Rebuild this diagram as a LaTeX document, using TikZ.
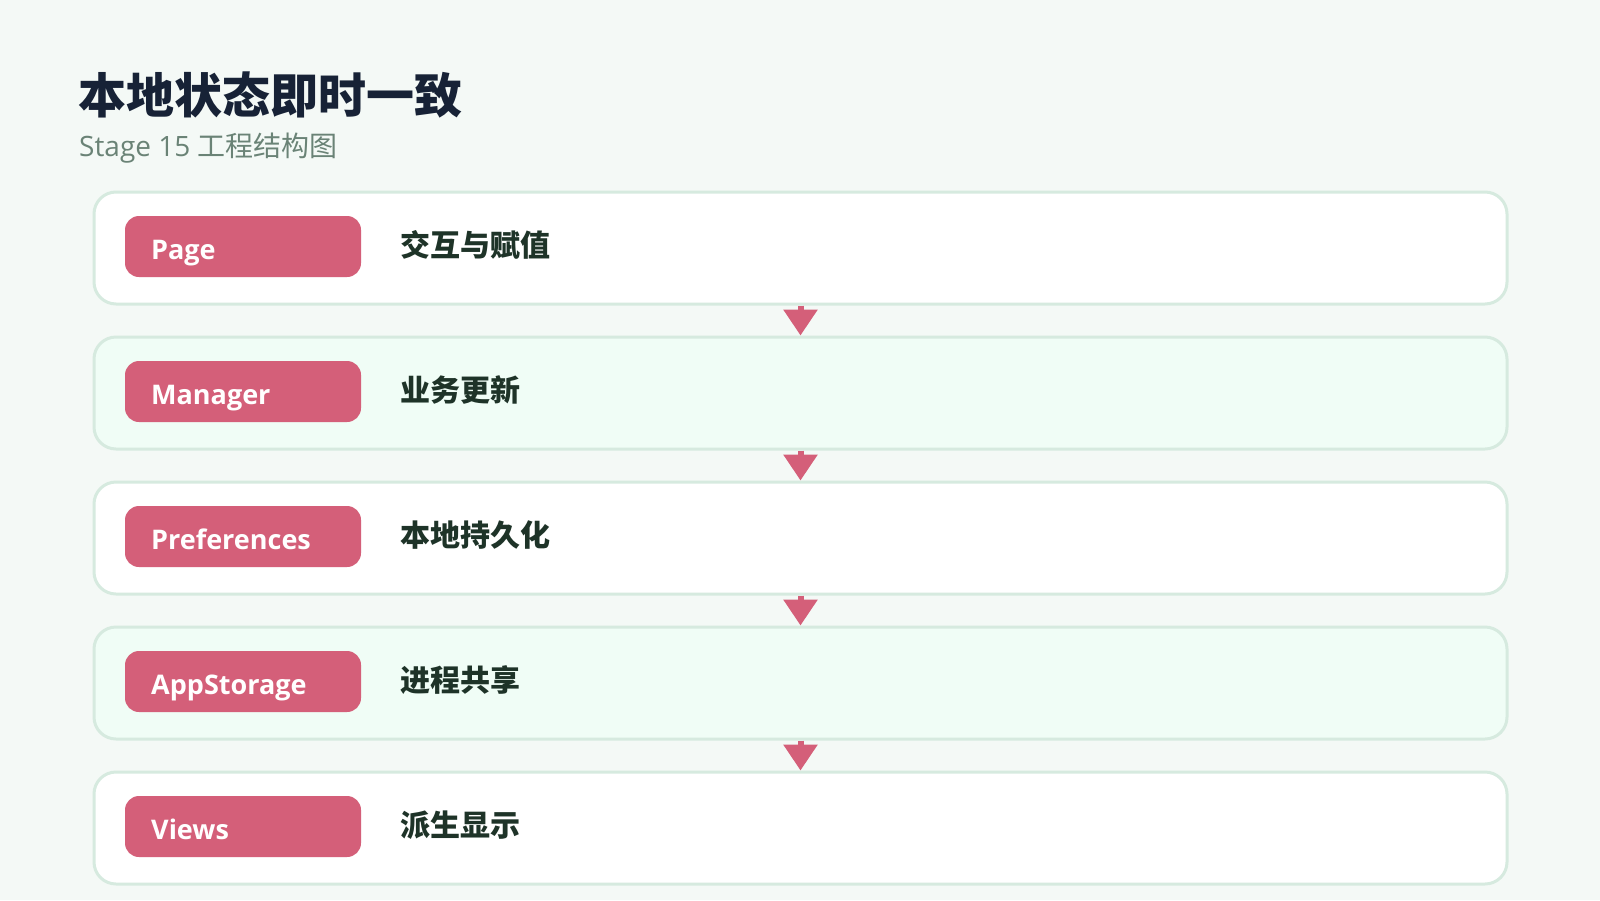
\documentclass[tikz,border=0pt]{standalone}
\usepackage{fontspec}
\setmainfont{Open Sans}
\newfontfamily\cjk{Noto Sans CJK SC}
\usetikzlibrary{arrows.meta}
\definecolor{bgcol}{HTML}{F4F9F6}
\definecolor{rowline}{HTML}{D6EADF}
\definecolor{rowalt}{HTML}{F0FDF6}
\definecolor{pillcol}{HTML}{D45F79}
\definecolor{titlecol}{HTML}{172236}
\definecolor{subcol}{HTML}{6A8376}
\definecolor{labcol}{HTML}{1E3328}
\begin{document}
\begin{tikzpicture}[x=1pt, y=-1pt,
    row/.style = {draw=rowline, line width=3pt, fill=white, rounded corners=22pt,
                  minimum width=1413pt, minimum height=112pt, inner sep=0pt},
    altrow/.style = {row, fill=rowalt},
    pill/.style = {fill=pillcol, rounded corners=14pt, minimum width=236pt,
                   minimum height=61pt, inner sep=0pt},
    tag/.style = {anchor=base west, inner sep=0pt, text=white,
                  font=\fontsize{27}{31}\selectfont\bfseries},
    lab/.style = {anchor=base west, inner sep=0pt, text=labcol,
                  font=\fontsize{30}{35}\selectfont\cjk\bfseries},
    flow/.style = {draw=pillcol, line width=6pt,
                   -{Triangle[width=33pt,length=26pt]}}]
    \fill[bgcol] (0,0) rectangle (1600,900);
    \useasboundingbox (0,0) rectangle (1600,900);
    % title
    \node[anchor=base west, inner sep=0pt, text=titlecol,
          font=\fontsize{48}{56}\selectfont\cjk\bfseries] (title) at (78,113) {本地状态即时一致};
    \node[anchor=base west, inner sep=0pt, text=subcol,
          font=\fontsize{28}{32}\selectfont] (sub) at (79,156) {Stage 15 {\cjk 工程结构图}};
    % rows
    \node[row] (r1) at (800.5,248) {};
    \node[altrow] (r2) at (800.5,393) {};
    \node[row] (r3) at (800.5,538) {};
    \node[altrow] (r4) at (800.5,683) {};
    \node[row] (r5) at (800.5,828) {};
    % pills
    \node[pill] (p1) at (243,246.5) {};
    \node[pill] (p2) at (243,391.5) {};
    \node[pill] (p3) at (243,536.5) {};
    \node[pill] (p4) at (243,681.5) {};
    \node[pill] (p5) at (243,826.5) {};
    \node[tag] (t1) at (151,259) {Page};
    \node[tag] (t2) at (151,404) {Manager};
    \node[tag] (t3) at (151,549) {Preferences};
    \node[tag] (t4) at (151,694) {AppStorage};
    \node[tag] (t5) at (151,839) {Views};
    % labels
    \node[lab] (l1) at (400,256) {交互与赋值};
    \node[lab] (l2) at (400,401) {业务更新};
    \node[lab] (l3) at (400,546) {本地持久化};
    \node[lab] (l4) at (400,691) {进程共享};
    \node[lab] (l5) at (400,836) {派生显示};
    % arrows
    \draw[flow] (r1) -- (r2);
    \draw[flow] (r2) -- (r3);
    \draw[flow] (r3) -- (r4);
    \draw[flow] (r4) -- (r5);
\end{tikzpicture}
\end{document}
